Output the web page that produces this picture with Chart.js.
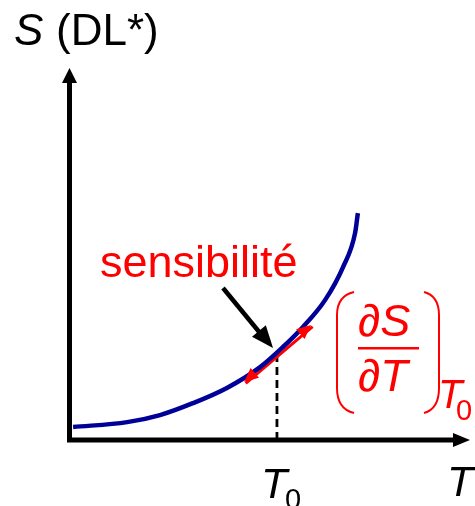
<!DOCTYPE html>
<html>
<head>
<meta charset="utf-8">
<script src="https://cdn.jsdelivr.net/npm/chart.js@4"></script>
<style>
  html, body { margin: 0; padding: 0; background: #fff; }
  #wrap { width: 475px; height: 506px; }
</style>
</head>
<body>
<div id="wrap"><canvas id="chart" width="475" height="506"></canvas></div>
<script>
// courbe S(T) (unités arbitraires)
const curveT = [0.09, 1.44, 2.26, 3.08, 3.93, 4.76, 5.33, 5.83, 6.38, 6.83, 7.13, 7.20];
const curveS = [0.35, 0.48, 0.67, 0.99, 1.40, 1.96, 2.50, 3.04, 3.76, 4.65, 5.56, 6.10];

// tangente au point T0
const tangentT = [4.36, 6.03];
const tangentS = [1.56, 3.09];

// point de fonctionnement
const T0 = 5.18;
const S0 = 2.23;

const FONT = '"Liberation Sans", Arial, sans-serif';
const RED = '#ff0000';
const BLUE = '#000099';

function arrowHead(ctx, x1, y1, x2, y2, len, half, color) {
  const a = Math.atan2(y2 - y1, x2 - x1);
  ctx.save();
  ctx.fillStyle = color;
  ctx.translate(x2, y2);
  ctx.rotate(a);
  ctx.beginPath();
  ctx.moveTo(0, 0);
  ctx.lineTo(-len, -half);
  ctx.lineTo(-len, half);
  ctx.closePath();
  ctx.fill();
  ctx.restore();
}

const schema = {
  id: 'schema',
  beforeDatasetsDraw(chart) {
    const ctx = chart.ctx;
    const a = chart.chartArea;
    ctx.save();
    // axes
    ctx.strokeStyle = '#000';
    ctx.lineWidth = 5;
    ctx.beginPath();
    ctx.moveTo(a.left, a.bottom + 2.5);
    ctx.lineTo(a.left, a.top + 12);
    ctx.moveTo(a.left - 2.5, a.bottom);
    ctx.lineTo(a.right - 14, a.bottom);
    ctx.stroke();
    arrowHead(ctx, a.left, a.bottom, a.left, a.top, 15, 7.5, '#000');
    arrowHead(ctx, a.left, a.bottom, a.right, a.bottom, 17, 7, '#000');
    ctx.restore();
  },
  afterDatasetsDraw(chart) {
    const ctx = chart.ctx;
    const x = chart.scales.x, y = chart.scales.y;
    // fleches rouges aux bouts de la tangente
    const p1 = [x.getPixelForValue(tangentT[0]), y.getPixelForValue(tangentS[0])];
    const p2 = [x.getPixelForValue(tangentT[1]), y.getPixelForValue(tangentS[1])];
    arrowHead(ctx, p2[0], p2[1], p1[0], p1[1], 14, 6.5, RED);
    arrowHead(ctx, p1[0], p1[1], p2[0], p2[1], 14, 6.5, RED);

    ctx.save();
    ctx.textBaseline = 'alphabetic';
    // titre de l'axe vertical
    ctx.fillStyle = '#000';
    ctx.font = 'italic 44px ' + FONT;
    ctx.fillText('S', 14, 45);
    ctx.font = '44px ' + FONT;
    ctx.fillText('(DL*)', 56, 45);
    // axe horizontal
    ctx.font = 'italic 43px ' + FONT;
    ctx.fillText('T', 447, 496);
    const tx = x.getPixelForValue(T0);
    ctx.fillText('T', tx - 16, 498);
    ctx.font = '29px ' + FONT;
    ctx.fillText('0', tx + 8, 509);

    // sensibilité + fleche noire
    ctx.fillStyle = RED;
    ctx.font = '45px ' + FONT;
    ctx.fillText('sensibilité', 100, 277);
    ctx.strokeStyle = '#000';
    ctx.lineWidth = 4.5;
    ctx.beginPath();
    ctx.moveTo(223, 288);
    ctx.lineTo(260, 333);
    ctx.stroke();
    arrowHead(ctx, 223, 288, 273, 348, 22, 9, '#000');

    // derivee partielle
    ctx.fillStyle = RED;
    ctx.font = 'italic 45px ' + FONT;
    ctx.fillText('\u2202S', 358, 336);
    ctx.fillText('\u2202T', 358, 391);
    ctx.fillRect(358, 347, 61, 2.5);
    ctx.strokeStyle = RED;
    ctx.lineWidth = 2;
    ctx.beginPath();
    ctx.moveTo(354, 292);
    ctx.quadraticCurveTo(337, 296, 337, 315);
    ctx.lineTo(337, 388);
    ctx.quadraticCurveTo(337, 409, 354, 413);
    ctx.moveTo(424, 292);
    ctx.quadraticCurveTo(439, 296, 439, 315);
    ctx.lineTo(439, 388);
    ctx.quadraticCurveTo(439, 409, 424, 413);
    ctx.stroke();
    ctx.font = 'italic 40px ' + FONT;
    ctx.fillText('T', 438, 408);
    ctx.font = '29px ' + FONT;
    ctx.fillText('0', 456, 420);
    ctx.restore();
  }
};

new Chart(document.getElementById('chart'), {
  type: 'scatter',
  data: {
    datasets: [
      {
        label: 'S(T)',
        data: curveT.map((t, i) => ({ x: t, y: curveS[i] })),
        showLine: true,
        borderColor: BLUE,
        borderWidth: 4.5,
        pointRadius: 0,
        cubicInterpolationMode: 'monotone',
        order: 1
      },
      {
        label: 'tangente',
        data: tangentT.map((t, i) => ({ x: t + 0.04, y: tangentS[i] - 0.04 })),
        showLine: true,
        borderColor: RED,
        borderWidth: 3,
        pointRadius: 0,
        order: 2
      },
      {
        label: 'T0',
        data: [{ x: T0, y: 0 }, { x: T0, y: S0 }],
        showLine: true,
        borderColor: '#000',
        borderWidth: 2.8,
        borderDash: [8, 5],
        pointRadius: 0,
        order: 3
      }
    ]
  },
  options: {
    responsive: false,
    animation: false,
    layout: { padding: { left: 69.5, right: 5, top: 68, bottom: 66 } },
    plugins: { legend: { display: false }, tooltip: { enabled: false } },
    scales: {
      x: { type: 'linear', min: 0, max: 10, display: false },
      y: { type: 'linear', min: 0, max: 10, display: false }
    }
  },
  plugins: [schema]
});
</script>
</body>
</html>
